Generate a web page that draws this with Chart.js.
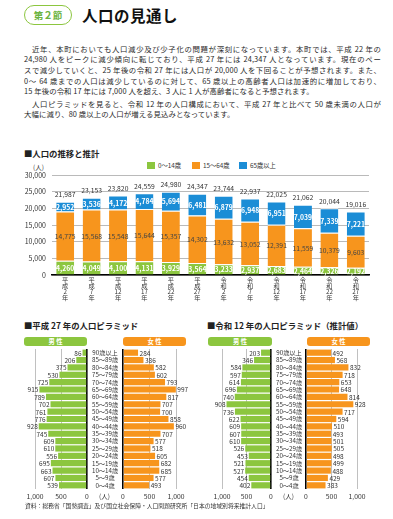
<!DOCTYPE html>
<html lang="ja">
<head>
<meta charset="utf-8">
<script src="https://cdn.jsdelivr.net/npm/chart.js@4.4.1/dist/chart.umd.min.js"></script>
<style>
  body { margin: 0; background: #fff; font-family: "Noto Sans CJK JP", "Noto Sans", sans-serif; color: #222; }
  #page { position: relative; width: 393px; height: 519px; overflow: hidden; }
  .abs { position: absolute; white-space: nowrap; }
  canvas { position: absolute; }
  .badge { left: 24px; top: 5px; width: 46px; height: 18px; border: 1px solid #8cc63f; border-radius: 10px;
           color: #6cb33f; font-size: 9.5px; line-height: 18px; text-align: center; font-weight: 700; }
  .title { left: 82px; top: 4px; font-size: 15.5px; font-weight: 700; color: #111; letter-spacing: 0.5px; }
  .para { left: 24px; width: 357px; font-size: 7.4px; line-height: 10.7px; color: #2a2a2a; letter-spacing: 0.1px; }
  .para div { white-space: nowrap; }
  .para .j { text-align: justify; text-align-last: justify; }
  .head { font-size: 8.4px; font-weight: 700; color: #222; }
  .legend { top: 162px; font-size: 6.3px; color: #333; line-height: 8px; }
  .sw { display: inline-block; width: 8px; height: 7px; vertical-align: -1px; margin-right: 3px; }
  .pill { height: 9px; border-radius: 3px; color: #fff; font-size: 6.3px; line-height: 9px; text-align: center; font-weight: 700; }
  .unit { font-size: 6.5px; color: #333; }
  .note { left: 25px; top: 501px; font-size: 5.8px; color: #333; }
</style>
</head>
<body>
<div id="page">
  <div class="abs badge">第２節</div>
  <div class="abs title">人口の見通し</div>

  <div class="abs para" style="top:43.5px">
    <div class="j">　近年、本町においても人口減少及び少子化の問題が深刻になっています。本町では、平成 22 年の</div>
    <div class="j">24,980 人をピークに減少傾向に転じており、平成 27 年には 24,347 人となっています。現在のペー</div>
    <div class="j">スで減少していくと、25 年後の令和 27 年には人口が 20,000 人を下回ることが予想されます。また、</div>
    <div class="j">0～ 64 歳までの人口は減少しているのに対して、65 歳以上の高齢者人口は加速的に増加しており、</div>
    <div>15 年後の令和 17 年には 7,000 人を超え、3 人に 1 人が高齢者になると予想されます。</div>
    <div class="j" style="margin-top:1.5px">　人口ピラミッドを見ると、令和 12 年の人口構成において、平成 27 年と比べて 50 歳未満の人口が</div>
    <div>大幅に減り、80 歳以上の人口が増える見込みとなっています。</div>
  </div>

  <div class="abs head" style="left:24px;top:147px">■人口の推移と推計</div>
  <div class="abs unit" style="left:33px;top:162px">(人)</div>
  <div class="abs legend" style="left:147px"><span class="sw" style="background:#8cc63f"></span>0～14歳</div>
  <div class="abs legend" style="left:192px"><span class="sw" style="background:#f7951d"></span>15～64歳</div>
  <div class="abs legend" style="left:239px"><span class="sw" style="background:#1b8dd6"></span>65歳以上</div>
  <canvas id="trend" width="380" height="150" style="left:0;top:160px"></canvas>

  <div class="abs head" style="left:24px;top:319px">■平成 27 年の人口ピラミッド</div>
  <div class="abs head" style="left:207px;top:319px">■令和 12 年の人口ピラミッド（推計値）</div>
  <div class="abs pill" style="left:24px;top:337px;width:63px;background:#8cc63f">男 性</div>
  <div class="abs pill" style="left:123px;top:337px;width:63px;background:#f7951d">女 性</div>
  <div class="abs pill" style="left:208px;top:337px;width:64px;background:#8cc63f">男 性</div>
  <div class="abs pill" style="left:307px;top:337px;width:63px;background:#f7951d">女 性</div>
  <canvas id="m27" width="123" height="165" style="left:0;top:340px"></canvas>
  <canvas id="f27" width="80" height="165" style="left:113px;top:340px"></canvas>
  <canvas id="m12" width="111" height="165" style="left:195px;top:340px"></canvas>
  <canvas id="f12" width="81" height="165" style="left:296px;top:340px"></canvas>
  <div class="abs unit" style="left:99px;top:491px">(人)</div>
  <div class="abs unit" style="left:283px;top:491px">(人)</div>

  <div class="abs note">資料：総務省「国勢調査」及び国立社会保障・人口問題研究所「日本の地域別将来推計人口」</div>
</div>

<script>
const FONT = '"Noto Sans CJK JP", "Noto Sans", sans-serif';
const GREEN = '#8cc63f';
const ORANGE = '#f7951d';
const BLUE = '#1b8dd6';

// 人口の推移と推計
const years = [
  ['平', '成', '2', '年'], ['平', '成', '7', '年'], ['平', '成', '12', '年'], ['平', '成', '17', '年'],
  ['平', '成', '22', '年'], ['平', '成', '27', '年'], ['令', '和', '2', '年'], ['令', '和', '7', '年'],
  ['令', '和', '12', '年'], ['令', '和', '17', '年'], ['令', '和', '22', '年'], ['令', '和', '27', '年'],
];
const age0to14 = [4260, 4049, 4100, 4131, 3929, 3564, 3233, 2937, 2683, 2464, 2326, 2192];
const age15to64 = [14775, 15568, 15548, 15644, 15357, 14302, 13632, 13052, 12391, 11559, 10379, 9603];
const age65plus = [2952, 3536, 4172, 4784, 5694, 6481, 6879, 6948, 6951, 7039, 7339, 7221];
const totals = [21987, 23153, 23820, 24559, 24980, 24347, 23744, 22937, 22025, 21062, 20044, 19016];
const trendTicks = [0, 5000, 10000, 15000, 20000, 25000, 30000];

// 人口ピラミッド
const ageGroups = ['90歳以上', '85～89歳', '80～84歳', '75～79歳', '70～74歳', '65～69歳', '60～64歳',
  '55～59歳', '50～54歳', '45～49歳', '40～44歳', '35～39歳', '30～34歳', '25～29歳', '20～24歳',
  '15～19歳', '10～14歳', '5～9歳', '0～4歳'];
const maleH27 = [86, 206, 375, 530, 725, 915, 789, 702, 761, 776, 928, 745, 609, 610, 556, 695, 663, 607, 539];
const femaleH27 = [284, 386, 582, 602, 793, 997, 817, 707, 700, 858, 960, 707, 577, 518, 605, 682, 685, 577, 493];
const maleR12 = [203, 346, 584, 597, 614, 696, 740, 908, 736, 622, 609, 607, 610, 526, 453, 521, 527, 454, 402];
const femaleR12 = [492, 568, 832, 718, 653, 648, 814, 928, 717, 594, 510, 493, 501, 505, 498, 499, 488, 429, 383];
const pyramidTicks = [0, 500, 1000];

const fmt = (v) => Number(v).toLocaleString('en-US');

const stackLabels = {
  id: 'stackLabels',
  afterDatasetsDraw(chart) {
    const ctx = chart.ctx;
    ctx.save();
    ctx.textAlign = 'center';
    ctx.textBaseline = 'middle';
    chart.data.datasets.forEach((ds, i) => {
      ctx.font = ds.labelFont;
      ctx.fillStyle = ds.labelColor;
      chart.getDatasetMeta(i).data.forEach((bar, j) => {
        ctx.fillText(fmt(ds.data[j]), bar.x, (bar.y + bar.base) / 2 + 0.5);
      });
    });
    ctx.font = '6.8px ' + FONT;
    ctx.fillStyle = '#333';
    chart.getDatasetMeta(2).data.forEach((bar, j) => {
      ctx.fillText(fmt(totals[j]), bar.x, bar.y - 7);
    });
    ctx.restore();
  },
};

new Chart(document.getElementById('trend'), {
  type: 'bar',
  data: {
    labels: years,
    datasets: [
      { label: '0～14歳', data: age0to14, backgroundColor: GREEN, labelColor: '#fff', labelFont: 'bold 6.8px ' + FONT },
      { label: '15～64歳', data: age15to64, backgroundColor: ORANGE, labelColor: '#444', labelFont: '6.8px ' + FONT },
      { label: '65歳以上', data: age65plus, backgroundColor: BLUE, labelColor: '#fff', labelFont: 'bold 6.8px ' + FONT },
    ].map((d) => ({ ...d, borderColor: '#fff', borderWidth: { top: 1, bottom: 0, left: 0, right: 0 }, borderSkipped: false,
      barPercentage: 0.68, categoryPercentage: 1 })),
  },
  plugins: [stackLabels],
  options: {
    responsive: false,
    animation: false,
    layout: { padding: { top: 15, right: 11, left: 0, bottom: 0 } },
    plugins: { legend: { display: false }, tooltip: { enabled: false } },
    scales: {
      x: {
        stacked: true,
        grid: { display: false, drawTicks: false },
        border: { color: '#000', width: 1.5 },
        ticks: { padding: 1, maxRotation: 0, autoSkip: false, color: '#333', font: { family: FONT, size: 6.2, lineHeight: 1.02 } },
        afterFit(scale) { scale.height = 35; },
      },
      y: {
        stacked: true,
        min: 0,
        max: 30000,
        afterBuildTicks(scale) { scale.ticks = trendTicks.map((v) => ({ value: v })); },
        grid: { color: '#a8a8a8', lineWidth: 0.8, drawTicks: false },
        border: { display: false },
        ticks: { padding: 6, color: '#333', font: { family: FONT, size: 7 }, callback: (v) => fmt(v) },
        afterFit(scale) { scale.width = 52; },
      },
    },
  },
});

function valueLabels(side) {
  return {
    id: 'valueLabels',
    afterDatasetsDraw(chart) {
      const ctx = chart.ctx;
      const ds = chart.data.datasets[0];
      ctx.save();
      ctx.font = '6.5px ' + FONT;
      ctx.fillStyle = '#333';
      ctx.textBaseline = 'middle';
      ctx.textAlign = side === 'left' ? 'right' : 'left';
      chart.getDatasetMeta(0).data.forEach((bar, j) => {
        ctx.fillText(ds.data[j], side === 'left' ? bar.x - 1 : bar.x + 1.5, bar.y + 0.5);
      });
      ctx.restore();
    },
  };
}

function pyramidHalf(id, values, color, side, pad) {
  const male = side === 'left';
  return new Chart(document.getElementById(id), {
    type: 'bar',
    data: {
      labels: ageGroups,
      datasets: [{ data: values, backgroundColor: color, barPercentage: 0.84, categoryPercentage: 1 }],
    },
    plugins: [valueLabels(side)],
    options: {
      indexAxis: 'y',
      responsive: false,
      animation: false,
      layout: { padding: pad },
      plugins: { legend: { display: false }, tooltip: { enabled: false } },
      scales: {
        x: {
          min: 0,
          max: 1000,
          reverse: male,
          afterBuildTicks(scale) { scale.ticks = pyramidTicks.map((v) => ({ value: v })); },
          grid: {
            drawTicks: false,
            color: (c) => (c.tick && c.tick.value === 0 ? '#000' : '#b0b0b0'),
            lineWidth: (c) => (c.tick && c.tick.value === 0 ? 1.6 : 0.8),
          },
          border: { display: false },
          ticks: { padding: 3, maxRotation: 0, autoSkip: false, color: '#333', font: { family: FONT, size: 6.8 }, callback: (v) => fmt(v) },
          afterFit(scale) { scale.height = 16; },
        },
        y: {
          display: male,
          position: 'right',
          grid: { display: false, drawTicks: false },
          border: { display: false },
          ticks: { padding: 5, autoSkip: false, crossAlign: 'center', color: '#333', font: { family: FONT, size: 6.2 } },
          afterFit(scale) { scale.width = pad.yWidth || 0; },
        },
      },
    },
  });
}

pyramidHalf('m27', maleH27, GREEN, 'left', { left: 35, right: 0, top: 9, bottom: 0, yWidth: 36 });
pyramidHalf('f27', femaleH27, ORANGE, 'right', { left: 10, right: 17, top: 9, bottom: 0 });
pyramidHalf('m12', maleR12, GREEN, 'left', { left: 27, right: 0, top: 9, bottom: 0, yWidth: 35 });
pyramidHalf('f12', femaleR12, ORANGE, 'right', { left: 10, right: 20, top: 9, bottom: 0 });
</script>
</body>
</html>
